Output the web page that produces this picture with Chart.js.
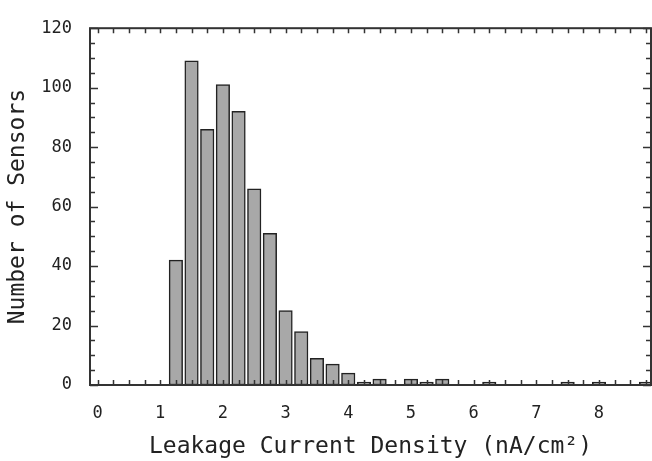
<!DOCTYPE html>
<html>
<head>
<meta charset="utf-8">
<script src="https://cdn.jsdelivr.net/npm/chart.js@4.4.0/dist/chart.umd.min.js"></script>
<style>
    html, body { margin: 0; padding: 0; background: #fff; }
    #wrap { width: 652px; height: 461px; position: relative; }
</style>
</head>
<body>
<div id="wrap"><canvas id="hist"></canvas></div>
<script>
// bin centres (nA/cm^2) and number of sensors in each bin
const binCenters = [1.25, 1.5, 1.75, 2.0, 2.25, 2.5, 2.75, 3.0, 3.25, 3.5, 3.75, 4.0, 4.25, 4.5, 4.75,
    5.0, 5.25, 5.5, 5.75, 6.0, 6.25, 6.5, 6.75, 7.0, 7.25, 7.5, 7.75, 8.0, 8.25, 8.5, 8.75];
const sensorCounts = [42, 109, 86, 101, 92, 66, 51, 25, 18, 9, 7, 4, 1, 2, 0,
    2, 1, 2, 0, 0, 1, 0, 0, 0, 0, 1, 0, 1, 0, 0, 1];

const xTickLabels = [0, 1, 2, 3, 4, 5, 6, 7, 8];
const yTickLabels = [0, 20, 40, 60, 80, 100, 120];

const monoFont = "'DejaVu Sans Mono', 'Liberation Mono', monospace";

// frame + inward tick marks, like the original plot
const frameTicks = {
    id: 'frameTicks',
    afterDatasetsDraw(chart) {
        const ctx = chart.ctx;
        const area = chart.chartArea;
        const xs = chart.scales.x;
        const ys = chart.scales.y;
        ctx.save();
        ctx.strokeStyle = '#333';
        ctx.lineWidth = 1.5;
        ctx.beginPath();
        for (let v = 0; v <= xs.max; v += 0.25) {
            let px = Math.round(xs.getPixelForValue(v)) + 0.5;
            ctx.moveTo(px, area.bottom);
            ctx.lineTo(px, area.bottom - 5);
            ctx.moveTo(px, area.top);
            ctx.lineTo(px, area.top + 5);
        }
        for (let v = 0; v <= ys.max; v += 5) {
            let py = Math.round(ys.getPixelForValue(v)) + 0.5;
            let len = (v % 20 === 0) ? 8 : 5;
            ctx.moveTo(area.left, py);
            ctx.lineTo(area.left + len, py);
            ctx.moveTo(area.right, py);
            ctx.lineTo(area.right - len, py);
        }
        ctx.stroke();
        ctx.lineWidth = 2;
        ctx.strokeRect(area.left, area.top, area.right - area.left, area.bottom - area.top);
        ctx.restore();
    }
};

let histCtx = document.getElementById('hist').getContext('2d');
let chart = new Chart(histCtx, {
    type: 'bar',
    data: {
        datasets: [{
            label: 'Sensors',
            data: binCenters.map((c, i) => ({ x: c, y: sensorCounts[i] })),
            backgroundColor: '#a8a8a8',
            borderColor: '#222',
            borderWidth: (c) => (c.raw && c.raw.y > 0 ? 1.5 : 0),
            borderSkipped: false,
            barThickness: 13.5
        }]
    },
    options: {
        responsive: true,
        maintainAspectRatio: false,
        animation: false,
        layout: { padding: { top: 19, right: 1, left: 0, bottom: 0 } },
        plugins: {
            legend: { display: false },
            tooltip: { enabled: false }
        },
        scales: {
            x: {
                type: 'linear',
                offset: false,
                min: -0.12,
                max: 8.83,
                grid: { display: false, drawTicks: false },
                border: { display: false },
                afterBuildTicks: (s) => { s.ticks = xTickLabels.map(v => ({ value: v })); },
                afterFit: (s) => { s.height = 76; },
                ticks: {
                    padding: 18,
                    maxRotation: 0,
                    autoSkip: false,
                    color: '#222',
                    font: { family: monoFont, size: 17 }
                },
                title: {
                    display: true,
                    text: 'Leakage Current Density (nA/cm²)',
                    color: '#222',
                    padding: { top: 0, bottom: 0 },
                    font: { family: monoFont, size: 23 }
                }
            },
            y: {
                min: 0,
                max: 120,
                grid: { display: false, drawTicks: false },
                border: { display: false },
                afterBuildTicks: (s) => { s.ticks = yTickLabels.map(v => ({ value: v })); },
                afterFit: (s) => { s.width = 90; },
                ticks: {
                    padding: 18,
                    color: '#222',
                    font: { family: monoFont, size: 17 }
                },
                title: {
                    display: true,
                    text: 'Number of Sensors',
                    color: '#222',
                    padding: { top: 4, bottom: 0 },
                    font: { family: monoFont, size: 23 }
                }
            }
        }
    },
    plugins: [frameTicks]
});
</script>
</body>
</html>
